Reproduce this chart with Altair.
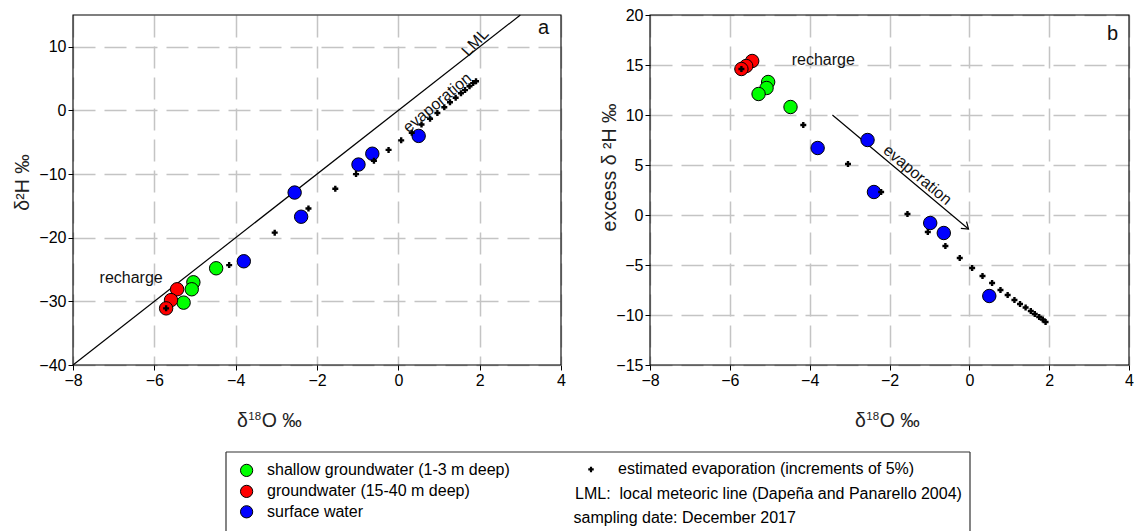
import altair as alt
import pandas as pd

# ---------------- data ----------------
group_names = ["shallow groundwater (1-3 m deep)", "groundwater (15-40 m deep)", "surface water"]
group_colors = ["#00ff00", "#ff0000", "#0000ff"]

shallow_o18 = [-4.48, -5.04, -5.08, -5.28]
shallow_h2 = [-24.8, -27.0, -28.1, -30.2]
shallow_dex = [10.8, 13.3, 12.7, 12.1]

deep_o18 = [-5.44, -5.59, -5.71]
deep_h2 = [-28.1, -29.8, -31.1]
deep_dex = [15.4, 14.9, 14.6]

surface_o18 = [0.50, -0.64, -0.98, -2.55, -2.39, -3.80]
surface_h2 = [-4.0, -6.8, -8.5, -12.9, -16.7, -23.7]
surface_dex = [-8.1, -1.8, -0.8, 7.5, 2.3, 6.7]

evap_o18 = [-5.71, -4.16, -3.04, -2.21, -1.55, -1.04, -0.60, -0.24, 0.07, 0.33, 0.57,
            0.78, 0.96, 1.13, 1.27, 1.41, 1.54, 1.64, 1.75, 1.84, 1.91]
evap_h2 = [-31.1, -24.3, -19.2, -15.4, -12.3, -10.0, -7.9, -6.2, -4.7, -3.5, -2.2,
           -1.3, -0.4, 0.5, 1.3, 2.0, 2.7, 3.2, 3.8, 4.3, 4.6]
evap_dex = [14.6, 9.0, 5.1, 2.3, 0.1, -1.7, -3.1, -4.3, -5.3, -6.1, -6.8,
            -7.5, -8.0, -8.5, -8.9, -9.25, -9.6, -9.9, -10.2, -10.45, -10.7]

lml_o18 = [-8, 3]
lml_h2 = [-40, 15]

arrow_o18 = [-3.43, -0.02]
arrow_dex = [10.0, -1.4]

x_ticks = [-8, -6, -4, -2, 0, 2, 4]
ya_ticks = [-40, -30, -20, -10, 0, 10]
yb_ticks = [-15, -10, -5, 0, 5, 10, 15, 20]

# annotation texts (label, x, y, angle)
ann_a = [("LML", 1.89, 10.7, 313), ("evaporation", 0.96, 1.2, 320),
         ("recharge", -6.57, -26.35, 0), ("a", 3.57, 12.9, 0)]
ann_b = [("recharge", -3.66, 15.5, 0), ("evaporation", -1.30, 4.0, 40),
         ("b", 3.59, 18.1, 0)]

# x-axis title pieces: delta, superscript, rest
xtitle_parts = ["\u03b4", "18", "O \u2030"]

legend_left = ["shallow groundwater (1-3 m deep)", "groundwater (15-40 m deep)", "surface water"]
legend_right = ["estimated evaporation (increments of 5%)",
                "LML:\u00a0 local meteoric line (Dape\u00f1a and Panarello 2004)",
                "sampling date: December 2017"]

FONT = "Liberation Sans"
H = 350
WA, WB = 488, 479
TFS = 19.5


def axis_x():
    return alt.Axis(values=x_ticks, grid=True, gridDash=[22, 9], gridColor="#c4c4c4",
                    gridWidth=1.5, domain=False, tickColor="black", tickSize=5,
                    labelFontSize=16, labelColor="black", labelPadding=2, labelFont=FONT,
                    title=None, labelFlush=False)


def axis_y(values, title, title_x, title_y):
    return alt.Axis(values=values, grid=True, gridDash=[22, 9], gridColor="#c4c4c4",
                    gridWidth=1.5, domain=False, tickColor="black", tickSize=5,
                    labelFontSize=16, labelColor="black", labelPadding=2, labelFont=FONT,
                    title=title, titleFontSize=TFS, titleFont=FONT, titleFontWeight="normal",
                    titleColor="#222", titleX=title_x, titleY=title_y, titleAngle=270,
                    titleBaseline="middle", titleAlign="center", labelFlush=False)


def xtitle_layers(x_start):
    base_y = H + 62
    w_delta = 0.556 * TFS + 0.5
    w_sup = 2 * 0.556 * 11.5 + 0.5
    specs = [(xtitle_parts[0], x_start, base_y, TFS),
             (xtitle_parts[1], x_start + w_delta, base_y - 7.5, 11.5),
             (xtitle_parts[2], x_start + w_delta + w_sup, base_y, TFS)]
    out = []
    for t, px, py, fs in specs:
        out.append(alt.Chart(pd.DataFrame({"t": [t]})).mark_text(
            font=FONT, fontSize=fs, align="left", baseline="alphabetic", color="#222").encode(
            x=alt.value(px), y=alt.value(py), text="t:N"))
    return out


def panel(W, ycol_vals, ydomain, yticks, ytitle, xtitle_start, ytitle_x, ytitle_y, ann, extra=None):
    sh, dp, sf, ev = ycol_vals
    X = alt.X("x:Q", scale=alt.Scale(domain=[-8, 4], nice=False, zero=False), axis=axis_x())
    Y = alt.Y("y:Q", scale=alt.Scale(domain=ydomain, nice=False, zero=False),
              axis=axis_y(yticks, ytitle, ytitle_x, ytitle_y))

    pts = pd.DataFrame({
        "x": shallow_o18 + deep_o18 + surface_o18,
        "y": sh + dp + sf,
        "g": [group_names[0]] * len(shallow_o18) + [group_names[1]] * len(deep_o18)
             + [group_names[2]] * len(surface_o18),
    })
    circles = alt.Chart(pts).mark_point(filled=True, shape="circle", size=180, stroke="black",
                                        strokeWidth=1, opacity=1).encode(
        x=X, y=Y,
        fill=alt.Fill("g:N", scale=alt.Scale(domain=group_names, range=group_colors), legend=None))
    evap = alt.Chart(pd.DataFrame({"x": evap_o18, "y": ev})).mark_point(
        shape="cross", filled=True, size=36, color="black", opacity=1).encode(x=X, y=Y)

    layers = []
    if extra is not None:
        layers += extra(X, Y)
    layers += [circles, evap]
    for label, ax, ay, ang in ann:
        size = 20 if label in ("a", "b") else 16
        layers.append(alt.Chart(pd.DataFrame({"x": [ax], "y": [ay], "t": [label]})).mark_text(
            font=FONT, fontSize=size, angle=ang, align="center", baseline="middle",
            color="#111").encode(x=X, y=Y, text="t:N"))
    frame = alt.Chart(pd.DataFrame({"d": [0]})).mark_rect(
        fill="transparent", stroke="black", strokeWidth=1.1).encode(
        x=alt.value(0), x2=alt.value(W), y=alt.value(0), y2=alt.value(H))
    layers.append(frame)
    layers += xtitle_layers(xtitle_start)
    return alt.layer(*layers).properties(width=W, height=H,
                                         view=alt.ViewBackground(stroke="transparent"))


def lml_layer(X, Y):
    return [alt.Chart(pd.DataFrame({"x": lml_o18, "y": lml_h2})).mark_line(
        color="black", strokeWidth=1.2).encode(x=X, y=Y)]


def arrow_layer(X, Y):
    df = pd.DataFrame({"x": [arrow_o18[0]], "y": [arrow_dex[0]],
                       "x2": [arrow_o18[1]], "y2": [arrow_dex[1]]})
    shaft = alt.Chart(df).mark_rule(color="black", strokeWidth=1.2).encode(
        x=X, y=Y, x2="x2:Q", y2="y2:Q")
    head = alt.Chart(pd.DataFrame({"x": [arrow_o18[1]], "y": [arrow_dex[1]]})).mark_point(
        shape="M -1 -0.7 L 0 0 L -1 0.7", filled=False, size=160, angle=40,
        stroke="black", strokeWidth=1.2, opacity=1).encode(x=X, y=Y)
    return [shaft, head]


pa = panel(WA, (shallow_h2, deep_h2, surface_h2, evap_h2), [-40, 15], ya_ticks,
           "\u03b4\u00b2H \u2030", 164, -51, 167, ann_a, lml_layer)
pb = panel(WB, (shallow_dex, deep_dex, surface_dex, evap_dex), [-15, 20], yb_ticks,
           "excess \u03b4 \u00b2H \u2030", 205, -41, 152, ann_b, arrow_layer)

top = alt.hconcat(pa, pb, spacing=32)

# ---------------- legend box (positions relative to panel a's plot origin) ----------------
LX0, LX1, LH = 153, 897, 90
one = pd.DataFrame({"d": [0]})
box = [
    alt.Chart(one).mark_rule(color="#333", strokeWidth=1.2).encode(
        x=alt.value(LX0), x2=alt.value(LX1), y=alt.value(0), y2=alt.value(0)),
    alt.Chart(one).mark_rule(color="#333", strokeWidth=1.2).encode(
        x=alt.value(LX0), y=alt.value(0), y2=alt.value(LH)),
    alt.Chart(one).mark_rule(color="#333", strokeWidth=1.2).encode(
        x=alt.value(LX1), y=alt.value(0), y2=alt.value(LH)),
]
rows_y = [18.4, 39.4, 59.8]
leg_layers = list(box)
for i, name in enumerate(legend_left):
    leg_layers.append(alt.Chart(pd.DataFrame({"g": [name]})).mark_point(
        filled=True, shape="circle", size=150, stroke="black", strokeWidth=1, opacity=1).encode(
        x=alt.value(173.6), y=alt.value(rows_y[i]),
        fill=alt.Fill("g:N", scale=alt.Scale(domain=group_names, range=group_colors), legend=None)))
    leg_layers.append(alt.Chart(pd.DataFrame({"t": [name]})).mark_text(
        font=FONT, fontSize=16, align="left", baseline="middle", color="black").encode(
        x=alt.value(194), y=alt.value(rows_y[i]), text="t:N"))
leg_layers.append(alt.Chart(one).mark_point(shape="cross", filled=True, size=30, color="black",
                                            opacity=1).encode(x=alt.value(518), y=alt.value(17.4)))
right_x = [545, 502, 500.5]
right_y = [17.4, 41.7, 66.2]
for i, t in enumerate(legend_right):
    leg_layers.append(alt.Chart(pd.DataFrame({"t": [t]})).mark_text(
        font=FONT, fontSize=16, align="left", baseline="middle", color="black").encode(
        x=alt.value(right_x[i]), y=alt.value(right_y[i]), text="t:N"))

legend = alt.layer(*leg_layers).properties(width=900, height=LH,
                                           view=alt.ViewBackground(stroke="transparent"))

chart = alt.vconcat(top, legend, spacing=19).properties(
    padding={"left": 3, "top": -2, "right": 0, "bottom": 0}
).configure(font=FONT, background="white").configure_view(stroke="transparent")

chart.save("out.html", embed_options={"renderer": "svg", "actions": False})
